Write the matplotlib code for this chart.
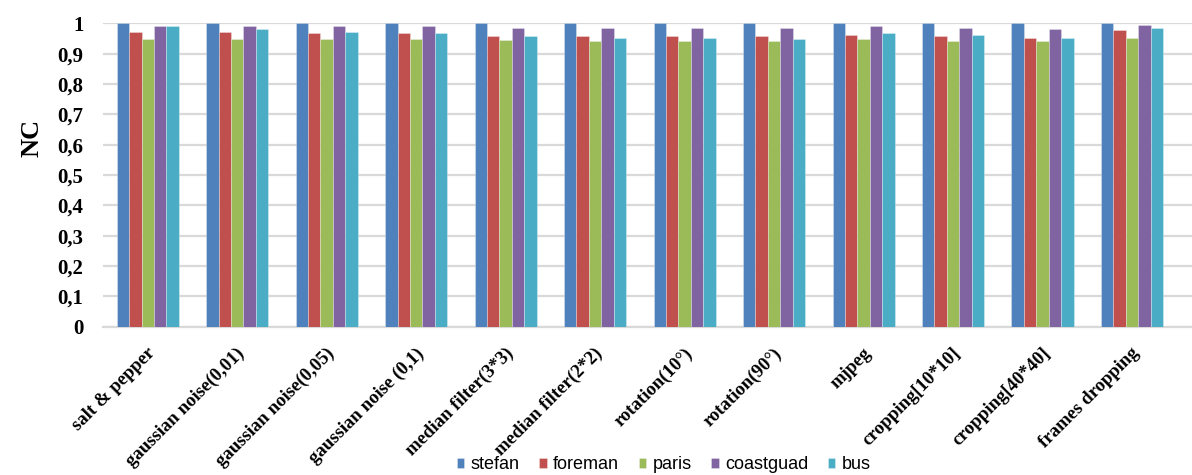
import matplotlib.pyplot as plt
import matplotlib.transforms as mtransforms
import numpy as np
from matplotlib.ticker import FuncFormatter

# attacks on the x axis
attacks = [
    "salt & pepper",
    "gaussian noise(0,01)",
    "gaussian noise(0,05)",
    "gaussian noise (0,1)",
    "median filter(3*3)",
    "median filter(2*2)",
    "rotation(10°)",
    "rotation(90°)",
    "mjpeg",
    "cropping[10*10]",
    "cropping[40*40]",
    "frames dropping",
]

# NC values per video sequence
stefan = [1.0, 1.0, 1.0, 1.0, 1.0, 1.0, 1.0, 1.0, 1.0, 1.0, 1.0, 1.0]
foreman = [0.972, 0.972, 0.967, 0.967, 0.958, 0.958, 0.958, 0.958, 0.963, 0.958, 0.953, 0.977]
paris = [0.949, 0.949, 0.949, 0.949, 0.944, 0.940, 0.940, 0.940, 0.949, 0.940, 0.940, 0.953]
coastguad = [0.991, 0.991, 0.991, 0.991, 0.986, 0.986, 0.986, 0.986, 0.991, 0.986, 0.981, 0.995]
bus = [0.991, 0.981, 0.972, 0.967, 0.958, 0.953, 0.953, 0.949, 0.967, 0.963, 0.953, 0.986]

series = [
    ("stefan", stefan, "#4F81BD"),
    ("foreman", foreman, "#C0504D"),
    ("paris", paris, "#9BBB59"),
    ("coastguad", coastguad, "#8064A2"),
    ("bus", bus, "#4BACC6"),
]

fig = plt.figure(figsize=(11.92, 4.75), dpi=100)
ax = fig.add_axes([0.0864, 0.312, 0.9136, 0.639])

x = np.arange(len(attacks))
width = 0.139
for i, (name, vals, color) in enumerate(series):
    offset = (i - 2) * width
    ax.bar(x + offset, vals, width, color=color, label=name,
           edgecolor=(1, 1, 1, 0.35), linewidth=0.6, zorder=3)

ax.set_ylim(0, 1)
ax.set_xlim(-0.5, 11.67)
ax.set_yticks(np.arange(0, 1.01, 0.1))
ax.yaxis.set_major_formatter(
    FuncFormatter(lambda v, p: "0" if v == 0 else ("1" if abs(v - 1) < 1e-9 else f"{v:.1f}".replace(".", ",")))
)
ax.grid(axis="y", color="#d9d9d9", linewidth=1.6, zorder=0)
for side in ["left", "right", "top"]:
    ax.spines[side].set_visible(False)
ax.spines["bottom"].set_color("#d9d9d9")
ax.spines["bottom"].set_linewidth(1.6)
ax.tick_params(axis="y", length=0, pad=14)
ax.tick_params(axis="x", length=0, pad=13)

for lab in ax.get_yticklabels():
    lab.set_family("Liberation Serif")
    lab.set_fontweight("bold")
    lab.set_fontsize(15)

ax.set_xticks(x)
ax.set_xticklabels(attacks, rotation=45, ha="right", va="top",
                   rotation_mode="anchor", family="Liberation Serif",
                   fontweight="bold", fontsize=13.5)
shift = mtransforms.ScaledTranslation(-1 / 100, 0, fig.dpi_scale_trans)
for lab in ax.get_xticklabels():
    lab.set_transform(lab.get_transform() + shift)

fig.text(0.027, 0.71, "NC", rotation=90, family="Liberation Serif",
         fontweight="bold", fontsize=19, ha="center", va="center")

ax.legend(loc="center", bbox_to_anchor=(0.515, -0.455), ncol=5, frameon=False,
          prop={"family": "Liberation Sans", "size": 13},
          handlelength=0.4, handleheight=0.4, handletextpad=0.35,
          columnspacing=1.1, borderpad=0.1)

fig.savefig("out.png", dpi=100)
